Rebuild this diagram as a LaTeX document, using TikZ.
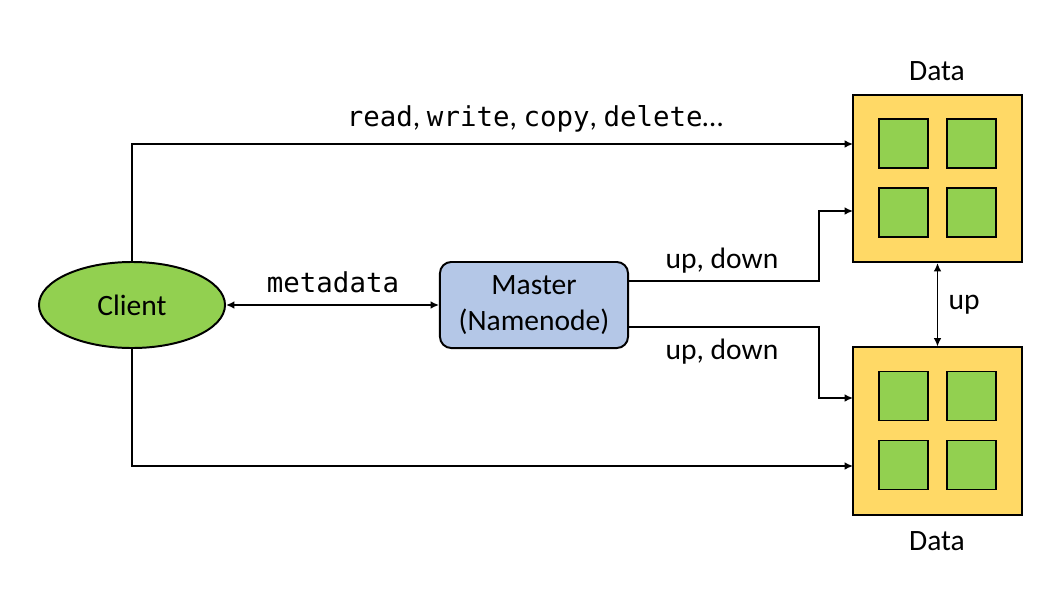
\documentclass[tikz,border=0pt]{standalone}
\usepackage{fontspec}
\setmainfont{Carlito}
\newfontfamily\monofont{DejaVu Sans Mono}
\usepackage{tikz}
\usetikzlibrary{arrows.meta}
\usetikzlibrary{shapes.geometric}
\usetikzlibrary{positioning}
\definecolor{leaf}{HTML}{92D050}
\definecolor{sand}{HTML}{FFD966}
\definecolor{sky}{HTML}{B4C7E7}
\tikzset{arr/.style = {line width = 1.1pt, -{Latex[length = 6pt, width = 5.5pt]}}}
\tikzset{biarr/.style = {arr, {Latex[length = 6pt, width = 5.5pt]}-{Latex[length = 6pt, width = 5.5pt]}}}
\tikzset{txt/.style = {font = \fontsize{21}{25}\selectfont, inner sep = 0}}
\tikzset{cell/.style = {draw, fill = leaf, line width = 1.4pt, minimum size = 1.225cm, inner sep = 0}}
\tikzset{store/.style = {draw, fill = sand, line width = 1.4pt, minimum width = 4.225cm, minimum height = 4.175cm, inner sep = 0}}
\newcommand\mono[1]{{\monofont\fontsize{19.5}{24}\selectfont #1}}

\begin{document}
\begin{tikzpicture}[x = 0.025cm, y = -0.025cm]
    \useasboundingbox (0, 0) rectangle (1056, 611);
    \node [draw, ellipse, fill = leaf, line width = 1.4pt, minimum width = 4.65cm,
           minimum height = 2.15cm, txt] (cl) at (132, 305) {Client};
    \node [draw, rounded corners = 8pt, fill = sky, line width = 1.4pt, minimum width = 4.7cm,
           minimum height = 2.15cm, txt, align = center] (ms) at (534, 305) {Master\\(Namenode)};
    \node [store] (dt) at (937.5, 178.5) {};
    \node [store] (db) at (937.5, 431) {};
    \foreach \n in {dt, db} {
        \foreach \dx/\dy in {-34/-35, 34/-35, -34/34, 34/34}
            \node [cell] at ([shift = {(\dx, \dy)}]\n.center) {};
    }
    \node [txt] (lt) at (937, 71) {Data};
    \node [txt] (lb) at (937, 541) {Data};

    \coordinate (t1) at (853, 144);
    \coordinate (t2) at (853, 211);
    \coordinate (b1) at (853, 398);
    \coordinate (b2) at (853, 466);
    \draw [arr] (cl.north) |- (t1);
    \draw [arr] (cl.south) |- (b2);
    \draw [biarr] (cl.east) -- (ms.west);
    \draw [arr] ([yshift = 6mm]ms.east) -- ++(190, 0) |- (t2);
    \draw [arr] ([yshift = -5.5mm]ms.east) -- ++(190, 0) |- (b1);
    \draw [biarr] (dt.south) -- (db.north);

    \node [txt] (rw) at (535, 119) {\mono{read}, \mono{write}, \mono{copy}, \mono{delete}…};
    \node [txt] (md) at (333, 282) {\mono{metadata}};
    \node [txt] (ud1) at (722, 261) {up, down};
    \node [txt] (ud2) at (722, 352) {up, down};
    \node [txt] (up) at (964, 305) {up};
\end{tikzpicture}
\end{document}
